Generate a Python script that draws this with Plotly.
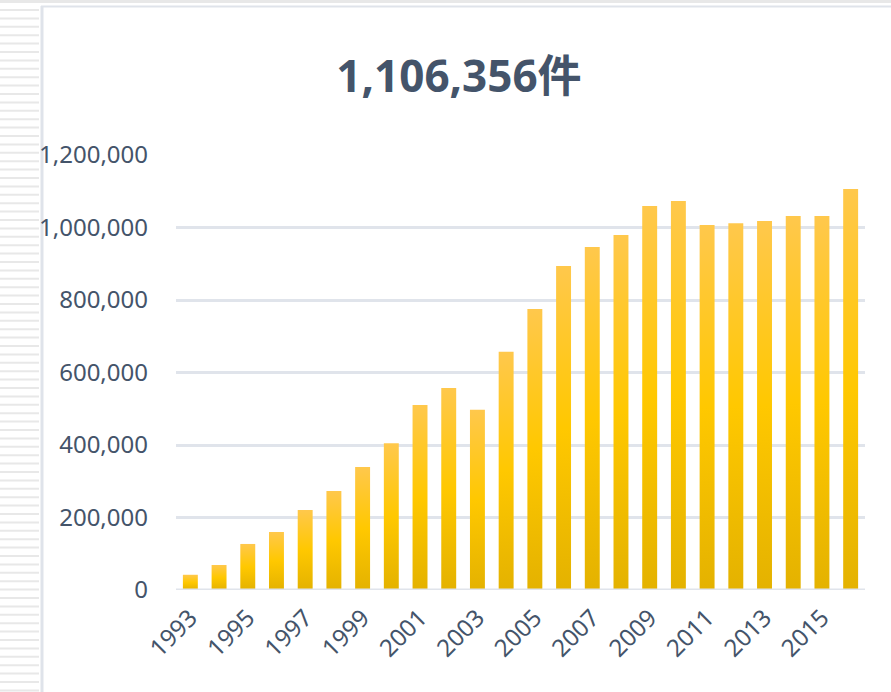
import plotly.graph_objects as go

# Annual counts
years = list(range(1993, 2017))
counts = [42000, 69000, 127000, 160000, 221000, 273000, 339000, 405000,
          510000, 557000, 497000, 657000, 775000, 894000, 946000, 979000,
          1059000, 1073000, 1007000, 1012000, 1018000, 1032000, 1032000, 1106356]
title_text = "1,106,356件"
y_tickvals = [0, 200000, 400000, 600000, 800000, 1000000, 1200000]
y_ticktext = ["0", "200,000", "400,000", "600,000", "800,000", "1,000,000", "1,200,000"]

TEXT = "#44546A"
GRID = "#e0e4eb"
BAR_W = 0.52
gold_scale = [[0.0, "#E4B200"], [0.5, "#FFC800"], [1.0, "#FFC84C"]]

W, H = 891, 692
L, R, T, B = 176, 26, 155, 102

fig = go.Figure()

# each column is a filled rectangle so that it can carry its own vertical gradient
for yr, v in zip(years, counts):
    x0, x1 = yr - BAR_W / 2, yr + BAR_W / 2
    fig.add_trace(go.Scatter(
        x=[x0, x0, x1, x1, x0],
        y=[0, v, v, 0, 0],
        mode="lines",
        line=dict(width=0),
        fill="toself",
        fillgradient=dict(type="vertical", colorscale=gold_scale, start=0, stop=v),
        hoverinfo="skip",
        showlegend=False,
    ))

# baseline drawn over the columns
fig.add_shape(type="line", xref="paper", yref="y", x0=0, x1=1, y0=0, y1=0,
              line=dict(color=GRID, width=3), layer="above")

# spreadsheet frame around the chart object
pw, ph = W - L - R, H - T - B


def px_x(px):
    return (px - L) / pw


def px_y(py):
    return (H - B - py) / ph


for k in range(82):
    yy = 10 + 8.4 * k
    fig.add_shape(type="line", xref="paper", yref="paper",
                  x0=px_x(0), x1=px_x(39), y0=px_y(yy), y1=px_y(yy),
                  line=dict(color="#e8e8e8", width=2), layer="below")
fig.add_shape(type="line", xref="paper", yref="paper",
              x0=px_x(0), x1=px_x(W), y0=px_y(1.5), y1=px_y(1.5),
              line=dict(color="#e8e8e8", width=3), layer="below")
fig.add_shape(type="line", xref="paper", yref="paper",
              x0=px_x(41), x1=px_x(W), y0=px_y(6.5), y1=px_y(6.5),
              line=dict(color="#dfe3ea", width=2), layer="below")
fig.add_shape(type="line", xref="paper", yref="paper",
              x0=px_x(42), x1=px_x(42), y0=px_y(6), y1=px_y(H),
              line=dict(color="#dfe3ea", width=3), layer="below")

fig.update_layout(
    width=W, height=H,
    margin=dict(l=L, r=R, t=T, b=B, pad=0),
    paper_bgcolor="white",
    plot_bgcolor="white",
    title=dict(
        text=title_text,
        x=459 / W, xref="container", xanchor="center",
        y=1 - 77 / H, yref="container", yanchor="middle",
        font=dict(family="Noto Sans, Noto Sans CJK JP", size=44, color=TEXT, weight="bold"),
    ),
    font=dict(family="Noto Sans, Noto Sans CJK JP", color=TEXT),
    xaxis=dict(
        range=[1992.5, 2016.5],
        tickmode="linear", tick0=1993, dtick=2,
        tickangle=-45,
        tickfont=dict(size=24, color=TEXT),
        showgrid=False, zeroline=False, showline=False,
        ticks="", ticklabelstandoff=8,
        fixedrange=True,
    ),
    yaxis=dict(
        range=[0, 1200000],
        tickvals=y_tickvals, ticktext=y_ticktext,
        tickfont=dict(size=24, color=TEXT),
        showgrid=True, gridcolor=GRID, gridwidth=3,
        zeroline=False, showline=False,
        ticks="", ticklabelstandoff=27,
        fixedrange=True,
    ),
)

fig.write_html("out.html")
